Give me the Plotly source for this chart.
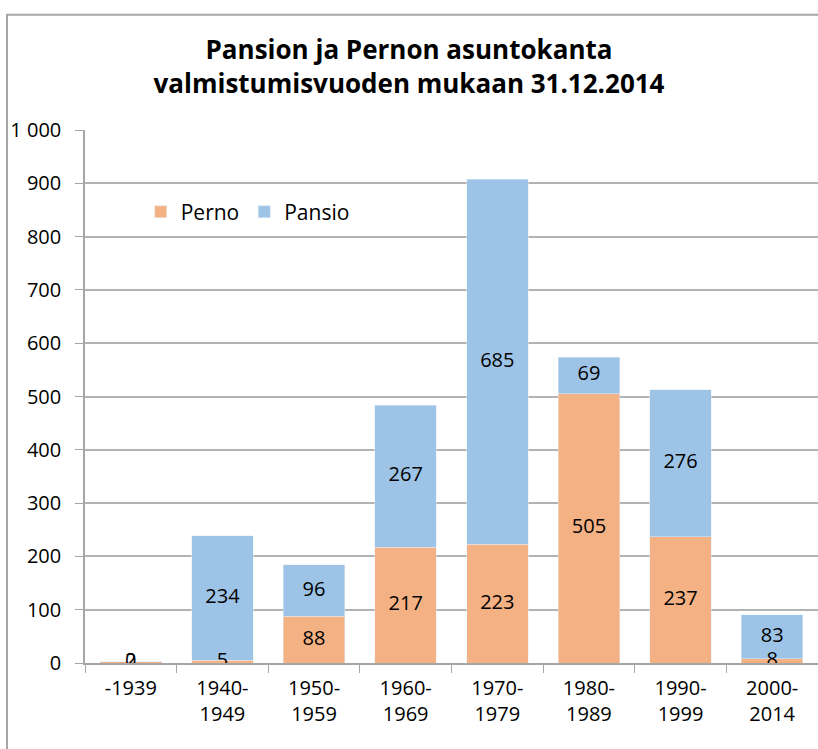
import plotly.graph_objects as go

# Valmistumisvuosi
periods = ["-1939", "1940-<br>1949", "1950-<br>1959", "1960-<br>1969",
           "1970-<br>1979", "1980-<br>1989", "1990-<br>1999", "2000-<br>2014"]
perno = [2, 5, 88, 217, 223, 505, 237, 8]
pansio = [0, 234, 96, 267, 685, 69, 276, 83]

orange = "#F4B183"
blue = "#9DC3E6"
font = "Open Sans"

fig = go.Figure()
fig.add_trace(go.Bar(x=periods, y=perno, name="Perno", marker_color=orange))
fig.add_trace(go.Bar(x=periods, y=pansio, name="Pansio", marker_color=blue))

# data labels at segment centres
fig.add_trace(go.Scatter(x=periods, y=[p / 2 for p in perno], mode="text",
                         text=[str(v) for v in perno], showlegend=False,
                         textfont=dict(size=20, color="black", family=font),
                         hoverinfo="skip"))
fig.add_trace(go.Scatter(x=periods, y=[p + q / 2 for p, q in zip(perno, pansio)],
                         mode="text", text=[str(v) for v in pansio], showlegend=False,
                         textfont=dict(size=20, color="black", family=font),
                         hoverinfo="skip"))

fig.update_layout(
    barmode="stack",
    bargap=0.33,
    width=818, height=749,
    margin=dict(l=85, r=0, t=130, b=86),
    paper_bgcolor="white", plot_bgcolor="white",
    font=dict(family=font, size=20, color="black"),
    title=dict(text="<b>Pansion ja Pernon asuntokanta<br>valmistumisvuoden mukaan 31.12.2014</b>",
               x=0.5, xanchor="center", y=0.921, yanchor="middle",
               font=dict(size=26, family=font)),
    legend=dict(orientation="h", x=0.076, y=0.846, xanchor="left", yanchor="middle",
                font=dict(size=21), bgcolor="rgba(0,0,0,0)", traceorder="normal"),
    xaxis=dict(showline=True, linecolor="#A6A6A6", linewidth=1.5,
               ticks="outside", ticklen=8, tickcolor="#A6A6A6",
               tickson="boundaries", tickfont=dict(size=20), showgrid=False,
               ticklabelstandoff=6),
    yaxis=dict(range=[0, 1000], dtick=100, showline=True, linecolor="#A6A6A6",
               linewidth=1.5, ticks="outside", ticklen=8, tickcolor="#A6A6A6",
               gridcolor="#B3B3B3", gridwidth=2, tickfont=dict(size=20),
               tickformat=",d", zeroline=False, ticklabelstandoff=10),
    separators=", ",
    shapes=[dict(type="rect", xref="paper", yref="paper", x0=-0.1064, x1=1.2,
                 y0=-0.3, y1=1.216, line=dict(color="#A6A6A6", width=2),
                 fillcolor="rgba(0,0,0,0)", layer="below")],
)

# drop the page margin and scrollbars so the figure fills the window
fig.write_html("out.html", config={"displayModeBar": False},
               post_script="document.documentElement.style.overflow='hidden';"
                           "document.body.style.margin='0';"
                           "document.body.style.overflow='hidden';")
